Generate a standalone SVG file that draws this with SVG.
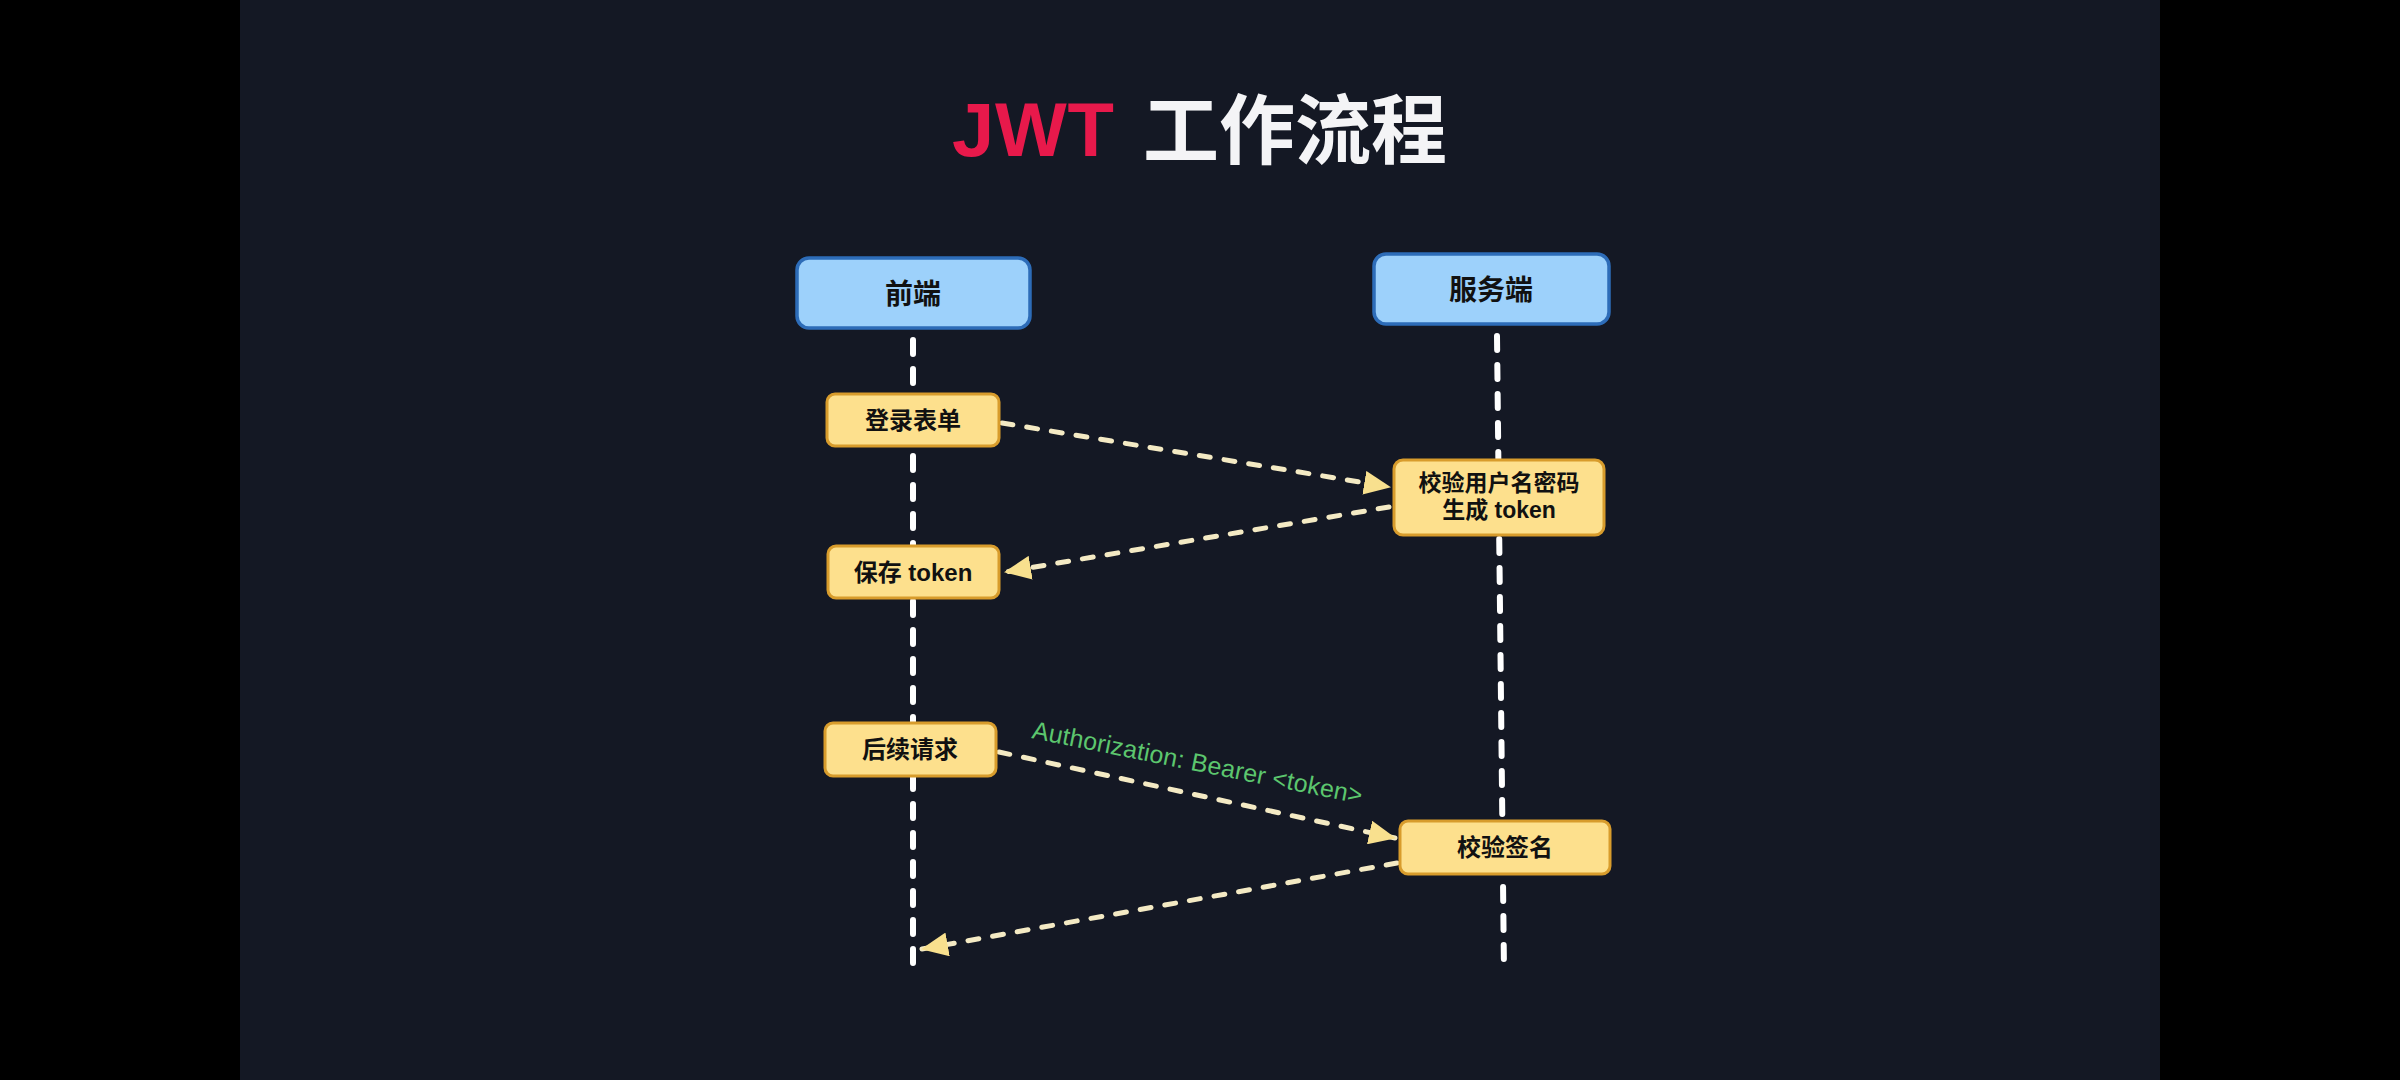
<svg xmlns="http://www.w3.org/2000/svg" width="2400" height="1080" viewBox="0 0 2400 1080">
<defs>
<style>
.blue{fill:#9dd1fb;stroke:#2d6cb8;stroke-width:3.5}
.yel{fill:#fde08d;stroke:#d89c2c;stroke-width:3}
.lbl{font-family:"Liberation Sans","Noto Sans CJK SC",sans-serif;font-weight:bold;fill:#111111;text-anchor:middle}
.life{stroke:#ffffff;stroke-width:6;stroke-linecap:round;stroke-dasharray:14 15;fill:none}
.msg{stroke:#f4eac4;stroke-width:5;stroke-linecap:round;stroke-dasharray:11 14;fill:none}
</style>
<marker id="ah" markerUnits="userSpaceOnUse" markerWidth="28" markerHeight="24" viewBox="0 0 28 24" refX="26" refY="12" orient="auto">
<path d="M0,0 L27,12 L0,24 Z" fill="#f8e08e"/>
</marker>
</defs>
<rect x="0" y="0" width="2400" height="1080" fill="#000000"/>
<rect x="240" y="0" width="1920" height="1080" fill="#141824"/>
<g id="title">
<text x="952" y="156" font-family="Liberation Sans,sans-serif" font-weight="bold" font-size="76" fill="#e8194b" textLength="162" lengthAdjust="spacing">JWT</text>
<text x="1143" y="158" font-family="'Noto Sans CJK SC',sans-serif" font-weight="bold" font-size="76" fill="#f4f4f6" textLength="304" lengthAdjust="spacing">工作流程</text>
</g>
<g id="lifelines">
<line class="life" x1="913" y1="340" x2="913" y2="978"/>
<line class="life" x1="1497" y1="336" x2="1504" y2="972"/>
</g>
<g id="connectors">
<line class="msg" x1="1002" y1="423" x2="1390" y2="487" marker-end="url(#ah)"/>
<line class="msg" x1="1389" y1="507" x2="1005" y2="572" marker-end="url(#ah)"/>
<line class="msg" x1="999" y1="752" x2="1395" y2="838" marker-end="url(#ah)"/>
<line class="msg" x1="1397" y1="863" x2="922" y2="949" marker-end="url(#ah)"/>
<text x="1031" y="738" transform="rotate(11.3 1031 738)" font-family="Liberation Sans,sans-serif" font-size="25" fill="#5cc66e" textLength="336" lengthAdjust="spacing">Authorization: Bearer &lt;token&gt;</text>
</g>
<g id="node-frontend">
<rect class="blue" x="797" y="258" width="233" height="70" rx="12"/>
<text class="lbl" x="913" y="304" font-size="28">前端</text>
</g>
<g id="node-server">
<rect class="blue" x="1374" y="254" width="235" height="70" rx="12"/>
<text class="lbl" x="1491" y="300" font-size="28">服务端</text>
</g>
<g id="node-login">
<rect class="yel" x="827" y="394" width="172" height="52" rx="8"/>
<text class="lbl" x="913" y="429" font-size="24">登录表单</text>
</g>
<g id="node-verify">
<rect class="yel" x="1394" y="460" width="210" height="75" rx="9"/>
<text class="lbl" x="1499" y="491" font-size="23">校验用户名密码</text>
<text class="lbl" x="1499" y="518" font-size="23">生成 token</text>
</g>
<g id="node-save">
<rect class="yel" x="828" y="546" width="171" height="52" rx="8"/>
<text class="lbl" x="913" y="581" font-size="24">保存 token</text>
</g>
<g id="node-request">
<rect class="yel" x="825" y="723" width="171" height="53" rx="8"/>
<text class="lbl" x="910" y="758" font-size="24">后续请求</text>
</g>
<g id="node-sign">
<rect class="yel" x="1400" y="821" width="210" height="53" rx="8"/>
<text class="lbl" x="1505" y="856" font-size="24">校验签名</text>
</g>
</svg>
